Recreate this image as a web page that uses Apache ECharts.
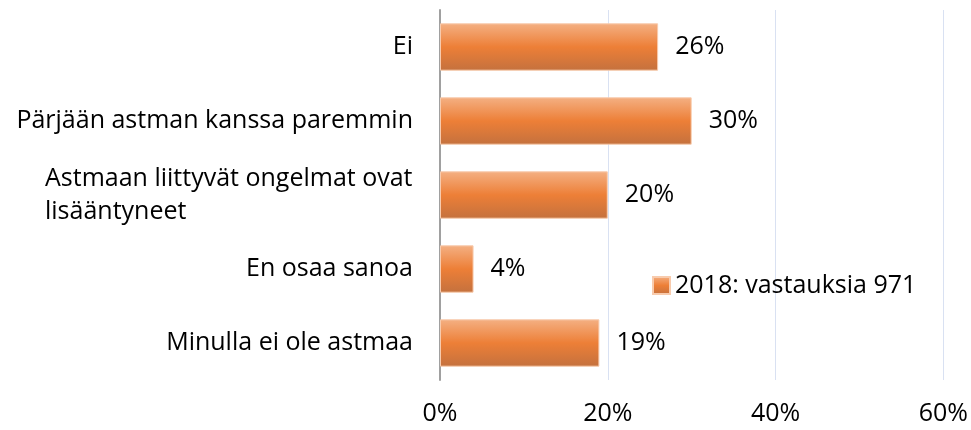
<!DOCTYPE html>
<html>
<head>
<meta charset="utf-8">
<script src="https://cdn.jsdelivr.net/npm/echarts@6/dist/echarts.min.js"></script>
<style>
  html, body { margin: 0; padding: 0; background: #fff; }
  #chart { width: 971px; height: 430px; }
</style>
</head>
<body>
<div id="chart"></div>
<script>
// Answers to the question, top to bottom
const categories = [
  'Ei',
  'Pärjään astman kanssa paremmin',
  'Astmaan liittyvät ongelmat ovat\nlisääntyneet',
  'En osaa sanoa',
  'Minulla ei ole astmaa'
];
const shares = [26, 30, 20, 4, 19];
const seriesName = '2018: vastauksia 971';
const xTicks = [0, 20, 40, 60];

const FONT = 'Open Sans';
const FS = 25;
const LH = 33;

// width of a text line, so the lines of a wrapped label can share a left edge
function textWidth(t) {
  const c = document.createElement('canvas').getContext('2d');
  c.font = FS + 'px "' + FONT + '"';
  return Math.ceil(c.measureText(t).width);
}

const barFill = new echarts.graphic.LinearGradient(0, 0, 0, 1, [
  { offset: 0, color: '#f4b083' },
  { offset: 0.5, color: '#ed7f37' },
  { offset: 1, color: '#c4713e' }
]);

const chart = echarts.init(document.getElementById('chart'));
chart.setOption({
  animation: false,
  textStyle: { fontFamily: FONT },
  grid: { left: 440, right: 27, top: 10, bottom: 50, containLabel: false },
  legend: {
    data: [seriesName],
    left: 647, top: 268,
    itemWidth: 17, itemHeight: 17, itemGap: 8,
    icon: 'rect',
    textStyle: { fontSize: FS, color: '#000', fontFamily: FONT }
  },
  xAxis: {
    type: 'value',
    min: xTicks[0], max: xTicks[xTicks.length - 1], interval: 20,
    axisLine: { show: false },
    axisTick: { show: false },
    splitLine: { show: true, lineStyle: { color: '#d9e1f2', width: 1 } },
    axisLabel: {
      margin: 21, fontSize: FS, color: '#000',
      formatter: v => v + '%'
    }
  },
  yAxis: {
    type: 'category',
    inverse: true,
    data: categories,
    axisLine: { show: true, lineStyle: { color: '#a0a0a0', width: 2 } },
    axisTick: { show: false },
    axisLabel: {
      margin: 27, fontSize: FS, color: '#000', lineHeight: LH,
      formatter: function (v) {
        const lines = v.split('\n');
        if (lines.length === 1) return v;
        return lines.map(l => '{l|' + l + '}').join('\n');
      },
      rich: {
        l: { fontSize: FS, lineHeight: LH, width: textWidth('Astmaan liittyvät ongelmat ovat'), align: 'left' }
      }
    }
  },
  series: [{
    name: seriesName,
    type: 'bar',
    data: shares,
    barCategoryGap: '36%',
    itemStyle: { color: barFill, borderColor: '#f8cbad', borderWidth: 1 },
    label: {
      show: true, position: 'right', distance: 17,
      fontSize: FS, color: '#000',
      formatter: p => p.value + '%'
    }
  }]
});
</script>
</body>
</html>
